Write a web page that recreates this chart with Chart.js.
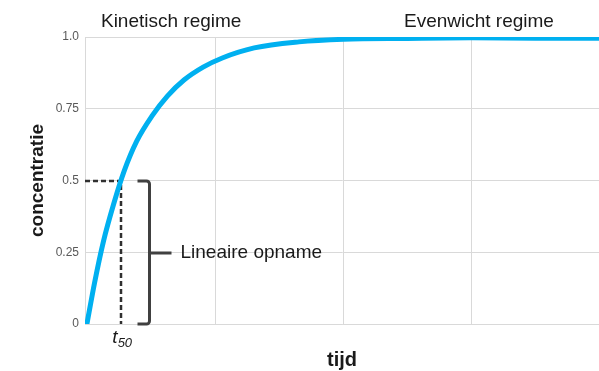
<!DOCTYPE html>
<html>
<head>
<meta charset="utf-8">
<script src="https://cdn.jsdelivr.net/npm/chart.js@4.4.1/dist/chart.umd.min.js"></script>
<style>
  html, body { margin: 0; padding: 0; background: #fff; }
  #wrap { width: 599px; height: 371px; }
</style>
</head>
<body>
<div id="wrap"><canvas id="curve"></canvas></div>
<script>
// data (tijd in grid units, concentratie 0..1)
const tijd = [-0.01, 0.05, 0.12, 0.2, 0.28, 0.38, 0.5, 0.62, 0.75, 0.9, 1.05, 1.3, 1.65, 2.0, 2.5, 3.0, 3.5, 4.0];
const concentratie = [0, 0.144, 0.289, 0.419, 0.531, 0.637, 0.725, 0.794, 0.85, 0.895, 0.927, 0.962, 0.983, 0.992, 0.995, 0.997, 0.996, 0.996];
const xGrid = [1, 2, 3, 4];
const yTicks = [0, 0.25, 0.5, 0.75, 1];
const t50 = 0.254;
const halfValue = 0.5;

const points = tijd.map((t, i) => ({ x: t, y: concentratie[i] }));

// extra drawing: regime labels, dashed t50 lines, bracket
const annotations = {
  id: 'annotations',
  beforeDatasetsDraw(chart) {
    const { ctx, scales: { x, y } } = chart;
    const px = Math.round(x.getPixelForValue(t50));
    const py = Math.round(y.getPixelForValue(halfValue));
    ctx.save();
    ctx.strokeStyle = '#303030';
    ctx.lineWidth = 2.5;
    ctx.setLineDash([5, 3]);
    ctx.beginPath();
    ctx.moveTo(x.left, py);
    ctx.lineTo(px, py);
    ctx.lineTo(px, y.bottom);
    ctx.stroke();
    ctx.restore();
  },
  afterDraw(chart) {
    const { ctx, scales: { x, y } } = chart;
    ctx.save();
    ctx.fillStyle = '#1a1a1a';
    ctx.font = '19px "Liberation Sans", Arial, sans-serif';
    ctx.textBaseline = 'alphabetic';
    ctx.textAlign = 'center';
    ctx.fillText('Kinetisch regime', x.getPixelForValue(0.65), 27);
    ctx.fillText('Evenwicht regime', x.getPixelForValue(3.06), 27);

    // bracket
    const bx = Math.round(x.getPixelForValue(0.48)) + 0.5;
    const top = Math.round(y.getPixelForValue(halfValue));
    const bot = Math.round(y.getPixelForValue(0));
    const mid = Math.round((top + bot) / 2);
    ctx.strokeStyle = '#404040';
    ctx.lineWidth = 3;
    ctx.lineJoin = 'round';
    ctx.beginPath();
    ctx.moveTo(bx - 12, top);
    ctx.arcTo(bx, top, bx, top + 6, 3);
    ctx.lineTo(bx, bot - 3);
    ctx.arcTo(bx, bot, bx - 6, bot, 3);
    ctx.lineTo(bx - 12, bot);
    ctx.moveTo(bx, mid);
    ctx.lineTo(bx + 22, mid);
    ctx.stroke();

    ctx.textAlign = 'left';
    ctx.textBaseline = 'middle';
    ctx.fillText('Lineaire opname', bx + 31, mid);

    // t50 label
    const tx = x.getPixelForValue(t50);
    ctx.textBaseline = 'alphabetic';
    ctx.font = 'italic 19px "Liberation Sans", Arial, sans-serif';
    ctx.textAlign = 'right';
    ctx.fillText('t', tx - 3, 343);
    ctx.font = 'italic 13px "Liberation Sans", Arial, sans-serif';
    ctx.textAlign = 'left';
    ctx.fillText('50', tx - 3, 347);
    ctx.restore();
  }
};

new Chart(document.getElementById('curve'), {
  type: 'line',
  data: {
    datasets: [{
      data: points,
      borderColor: 'rgb(0, 176, 240)',
      borderWidth: 5,
      pointRadius: 0,
      cubicInterpolationMode: 'monotone',
      borderCapStyle: 'round',
      borderJoinStyle: 'round',
      fill: false
    }]
  },
  options: {
    responsive: true,
    maintainAspectRatio: false,
    animation: false,
    layout: { padding: { top: 37, right: 0, left: 0, bottom: 0 } },
    plugins: { legend: { display: false }, tooltip: { enabled: false } },
    scales: {
      x: {
        type: 'linear',
        min: -0.025,
        max: 4,
        afterBuildTicks(scale) { scale.ticks = xGrid.map(v => ({ value: v })); },
        ticks: { display: false },
        grid: { color: '#d9d9d9', drawTicks: false },
        border: { color: '#d9d9d9' },
        title: {
          display: true,
          text: 'tijd',
          color: '#1a1a1a',
          font: { family: '"Liberation Sans", Arial, sans-serif', size: 20, weight: 'bold' },
          padding: { top: 0, bottom: -1 }
        },
        afterFit(scale) { scale.height = 47; }
      },
      y: {
        min: 0,
        max: 1,
        afterBuildTicks(scale) { scale.ticks = yTicks.map(v => ({ value: v })); },
        ticks: {
          color: '#595959',
          padding: 6,
          font: { family: '"Liberation Sans", Arial, sans-serif', size: 12 },
          callback: v => (v === 1 ? '1.0' : String(v))
        },
        grid: { color: '#d9d9d9', drawTicks: false },
        border: { color: '#d9d9d9' },
        title: {
          display: true,
          text: 'concentratie',
          color: '#1a1a1a',
          font: { family: '"Liberation Sans", Arial, sans-serif', size: 19, weight: 'bold' },
          padding: { top: 26, bottom: 0 }
        },
        afterFit(scale) { scale.width = 85; }
      }
    }
  },
  plugins: [annotations]
});
</script>
</body>
</html>
